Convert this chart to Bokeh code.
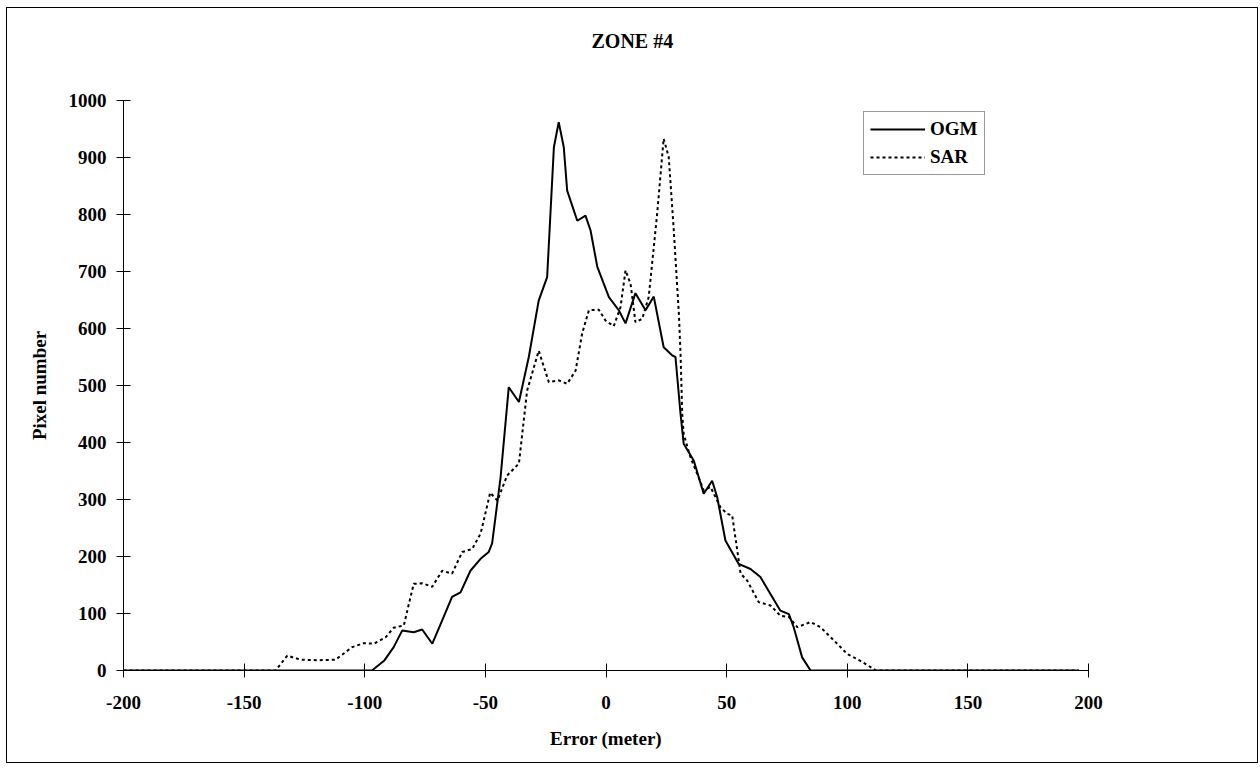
from bokeh.plotting import figure
from bokeh.models import Range1d, FixedTicker, Legend, LegendItem, Title
from bokeh.embed import file_html
from bokeh.resources import INLINE

ogm_x = [-200, -97, -92, -88, -84.5, -79.7, -76.2, -72, -67.9, -63.8, -60.3, -56.2, -52, -48.6, -47.2,
         -43.7, -40.3, -36.1, -32, -27.9, -24.4, -21.6, -19.6, -17.5, -16.1, -11.9, -8.5, -6.4, -3.6, 1.2,
         5.3, 8.1, 12.2, 16.4, 19.8, 23.9, 27.4, 28.8, 30.9, 32.2, 36.4, 40.5, 44, 46.1, 49.5,
         55, 59.9, 64, 68.9, 72.3, 75.8, 77.8, 81.3, 84.8, 196]
ogm_y = [0, 0, 17, 41, 70, 67, 72, 47, 88, 129, 137, 175, 196, 208, 223,
         339, 497, 471, 550, 649, 690, 918, 962, 918, 842, 789, 798, 772, 708, 655,
         632, 609, 662, 632, 656, 567, 553, 550, 450, 398, 368, 310, 333, 304, 228,
         187, 178, 164, 129, 105, 99, 76, 23, 0, 0]

sar_x = [-200, -137, -132.1, -126.6, -119.7, -112.1, -105.2, -100.4, -96.2, -91.4, -88, -83.8, -81.7, -79.7, -76.2,
         -72, -67.9, -63.8, -59.6, -55.5, -52, -50.7, -48, -45, -41, -36.1, -32.7, -27.9, -23.7, -19.6,
         -16.1, -12.6, -9.9, -7.1, -3, -0.2, 3.2, 6, 8.1, 10.2, 12.2, 15, 17.7, 21.2, 23.9,
         26, 28.1, 30.2, 30.9, 31.6, 32.2, 35, 37.8, 40.5, 43.3, 47.5, 50.2, 52.3, 54.4, 55.8,
         58.5, 63.3, 68.2, 72.3, 75.8, 79.3, 84.8, 88.9, 94.4, 100, 105, 112, 196]
sar_y = [0, 0, 26, 19, 18, 19, 41, 48, 47, 58, 75, 79, 117, 152, 153,
         147, 175, 170, 208, 213, 240, 263, 312, 298, 342, 363, 491, 561, 506, 509,
         503, 526, 591, 632, 633, 614, 604, 637, 702, 678, 611, 617, 655, 801, 933,
         901, 772, 626, 556, 450, 415, 374, 345, 316, 322, 286, 275, 272, 211, 170,
         158, 120, 114, 96, 94, 76, 85, 76, 53, 29, 18, 0, 0]

x_ticks = [-200, -150, -100, -50, 0, 50, 100, 150, 200]
x_tick_labels = ["-200", "-150", "-100", "-50", "0", "50", "100", "150", "200"]
y_ticks = [0, 100, 200, 300, 400, 500, 600, 700, 800, 900, 1000]
title_text = "ZONE #4"

FONT = "Liberation Serif"

p = figure(width=1252, height=756, output_backend="svg", toolbar_location=None,
           x_range=Range1d(-200, 200), y_range=Range1d(0, 1000),
           min_border_left=116, min_border_right=171, min_border_top=92, min_border_bottom=94)
p.title_location = None
p.margin = (7, 0, 0, 6)
p.styles = {"border": "1px solid black", "box-sizing": "border-box"}
p.outline_line_color = None
p.grid.visible = False
p.background_fill_color = "white"
p.border_fill_color = "white"

# empty spacer title next to the frame, then the real title above it
spacer = Title(text=" ", text_font=FONT, text_font_size="19px", standoff=26)
p.add_layout(spacer, "above")
main_title = Title(text=title_text, text_font=FONT, text_font_size="20px",
                   text_font_style="bold", text_color="black",
                   align="left", offset=468, standoff=0)
p.add_layout(main_title, "above")

for ax in (p.xaxis[0], p.yaxis[0]):
    ax.major_label_text_font = FONT
    ax.major_label_text_font_size = "19px"
    ax.major_label_text_font_style = "bold"
    ax.major_label_text_color = "black"
    ax.axis_label_text_font = FONT
    ax.axis_label_text_font_size = "19px"
    ax.axis_label_text_font_style = "bold"
    ax.axis_label_text_color = "black"
    ax.major_tick_in = 7
    ax.major_tick_out = 7
    ax.minor_tick_line_color = None
    ax.axis_line_color = "black"
    ax.major_tick_line_color = "black"

p.xaxis[0].ticker = FixedTicker(ticks=x_ticks)
p.xaxis[0].major_label_overrides = {t: s for t, s in zip(x_ticks, x_tick_labels)}
p.yaxis[0].ticker = FixedTicker(ticks=y_ticks)
p.xaxis[0].axis_label = "Error (meter)"
p.yaxis[0].axis_label = "Pixel number"
p.xaxis[0].major_label_standoff = 18
p.xaxis[0].axis_label_standoff = 16
p.yaxis[0].major_label_standoff = 10
p.yaxis[0].axis_label_standoff = 16

r1 = p.line(ogm_x, ogm_y, line_color="black", line_width=2)
r2 = p.line(sar_x, sar_y, line_color="black", line_width=2, line_dash="3 3")

legend = Legend(items=[LegendItem(label="OGM", renderers=[r1]),
                       LegendItem(label="SAR", renderers=[r2])],
                location=(740, 495))
legend.label_text_font = FONT
legend.label_text_font_size = "19px"
legend.label_text_font_style = "bold"
legend.label_text_color = "black"
legend.glyph_width = 55
legend.glyph_height = 20
legend.spacing = 6
legend.padding = 6
legend.margin = 0
legend.label_standoff = 5
legend.border_line_color = "#333333"
legend.border_line_width = 1
legend.background_fill_alpha = 1
p.add_layout(legend, "center")

open("out.html", "w").write(file_html(p, INLINE))
